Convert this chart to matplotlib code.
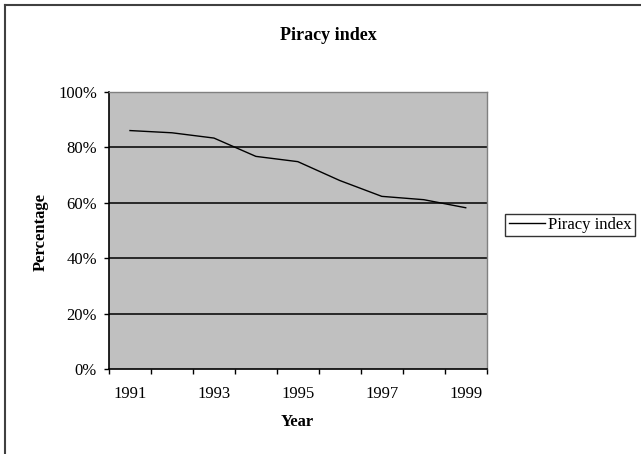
import matplotlib
matplotlib.use("Agg")
import matplotlib.pyplot as plt
from matplotlib.lines import Line2D

plt.rcParams['font.family'] = ['Liberation Serif', 'DejaVu Serif']

# data
years = ['1991', '1992', '1993', '1994', '1995', '1996', '1997', '1998', '1999']
piracy = [86, 85.2, 83.3, 76.7, 74.8, 68, 62.3, 61.1, 58.2]
yticks = [0, 20, 40, 60, 80, 100]

W, H = 641, 454
fig = plt.figure(figsize=(W / 100, H / 100), dpi=100)
ax = fig.add_axes([109 / W, 1 - 369.3 / H, (486.7 - 109) / W, (369.3 - 91.7) / H])
ax.set_facecolor('#c0c0c0')

# horizontal gridlines (not at the ends)
for t in yticks[1:-1]:
    ax.axhline(t, color='black', lw=1.1, zorder=1)

x = list(range(len(years)))
ax.plot(x, piracy, color='black', lw=1, label='Piracy index', zorder=3)

ax.set_xlim(-0.5, len(years) - 0.5)
ax.set_ylim(0, 100)
ax.set_yticks(yticks)
ax.set_yticklabels(['{}%'.format(t) for t in yticks])

# category axis: tick marks between categories, label every other year
ax.set_xticks([i - 0.5 for i in range(len(years) + 1)], minor=True)
ax.set_xticks(x[::2])
ax.set_xticklabels(years[::2])
ax.tick_params(axis='x', which='major', length=0, pad=12, labelsize=12)
ax.tick_params(axis='x', which='minor', length=3.5, width=1, direction='out')
ax.tick_params(axis='y', length=3.6, width=1, pad=5, labelsize=12)

for side in ['left', 'bottom']:
    ax.spines[side].set_color('black')
    ax.spines[side].set_linewidth(1.2)
for side in ['right', 'top']:
    ax.spines[side].set_color('#808080')
    ax.spines[side].set_linewidth(1)

fig.text(328 / W, 1 - 36 / H, 'Piracy index', ha='center', va='center',
         fontsize=13, fontweight='bold')
fig.text(41 / W, 1 - 232 / H, 'Percentage', ha='center', va='center',
         rotation=90, fontsize=12, fontweight='bold')
fig.text(297.5 / W, 1 - 422 / H, 'Year', ha='center', va='center',
         fontsize=12, fontweight='bold')

leg = fig.legend(loc='center', bbox_to_anchor=(570 / W, 1 - 225 / H),
                 fontsize=12, frameon=True, fancybox=False, edgecolor='black',
                 handlelength=2.2, handletextpad=0.15, borderpad=0.2,
                 borderaxespad=0)
leg.get_frame().set_linewidth(1)

# chart area border (left and top edges visible)
fig.add_artist(Line2D([5 / W, 5 / W], [0, 1 - 5 / H], color='#404040', lw=1.5))
fig.add_artist(Line2D([5 / W, 1], [1 - 5 / H, 1 - 5 / H], color='#404040', lw=1.5))

fig.savefig('out.png', dpi=100)
